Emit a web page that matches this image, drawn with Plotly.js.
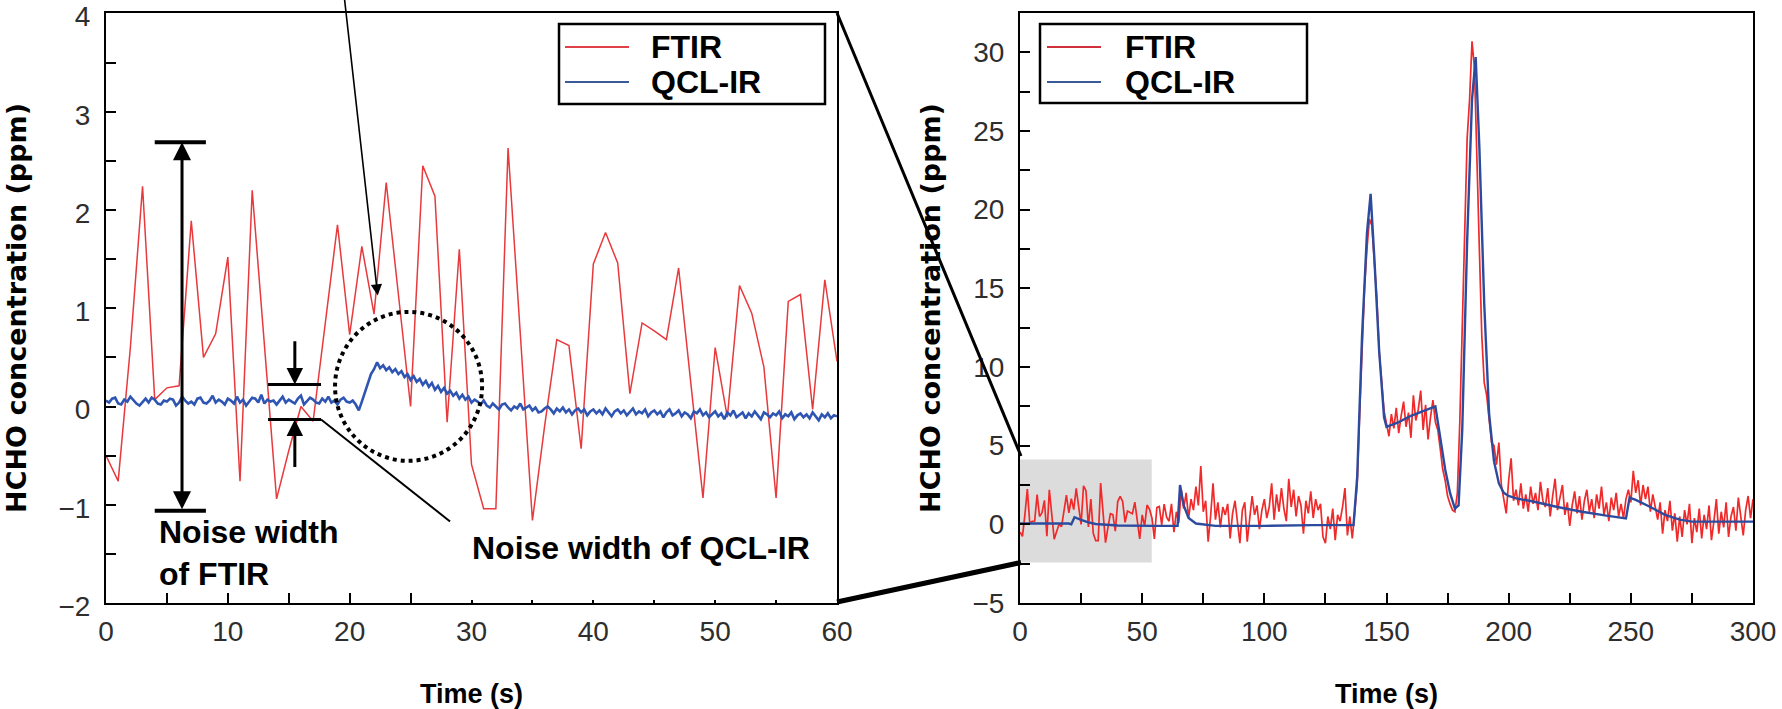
<!DOCTYPE html>
<html>
<head>
<meta charset="utf-8">
<script src="https://cdn.plot.ly/plotly-3.0.1.min.js"></script>
<style>html,body{margin:0;padding:0;background:#fff;}#chart{width:1782px;height:709px;}</style>
</head>
<body>
<div id="chart"></div>
<script>
// ---- Left panel (0-60 s) ----
// FTIR, one sample per second, t = 0..60
const ftirLeft = [
 -0.5, -0.76, 0.6, 2.24, 0.07, 0.19, 0.21, 1.89, 0.5, 0.74,
 1.52, -0.76, 2.2, 0.6, -0.94, -0.45, 0.0, -0.15, 0.85, 1.85,
 0.73, 1.63, 0.94, 2.28, 1.14, 0.0, 2.45, 2.14, -0.16, 1.6,
 -0.59, -1.04, -1.04, 2.63, 0.75, -1.16, -0.2, 0.68, 0.62, -0.43,
 1.45, 1.77, 1.46, 0.13, 0.85, 0.77, 0.68, 1.41, 0.24, -0.93,
 0.6, -0.11, 1.23, 0.95, 0.4, -0.93, 1.07, 1.14, -0.03, 1.29,
 0.46
];
// QCL-IR, one sample every 0.25 s, t = 0..60
const qclLeft = [
 0.06,0.04,0.08,0.09,0.03,0.02,0.07,0.05,0.10,0.06,0.03,0.01,0.05,0.08,0.04,0.09,0.07,0.03,0.02,0.06,
 0.05,0.08,0.07,0.01,0.04,0.10,0.06,0.03,0.05,0.02,0.08,0.09,0.04,0.03,0.06,0.11,0.04,0.07,0.05,0.02,
 0.08,0.06,0.03,0.10,0.04,0.07,0.01,0.05,0.09,0.08,0.04,0.12,0.03,0.07,0.05,0.06,0.02,0.06,0.10,0.04,
 0.07,0.05,0.03,0.08,0.11,0.02,0.06,0.09,0.07,0.04,0.03,0.08,0.05,0.10,0.04,0.06,0.02,0.07,0.09,0.05,
 0.04,0.06,0.02,-0.04,0.05,0.15,0.24,0.33,0.38,0.45,0.39,0.42,0.37,0.40,0.35,0.38,0.33,0.36,0.30,0.33,
 0.27,0.31,0.25,0.28,0.22,0.26,0.20,0.24,0.17,0.21,0.15,0.19,0.13,0.16,0.11,0.14,0.08,0.12,0.07,0.10,
 0.04,0.07,0.05,0.02,0.06,0.01,-0.01,0.03,0.00,-0.03,0.02,0.03,-0.01,-0.04,0.00,-0.02,0.03,-0.03,-0.01,0.01,
 -0.04,-0.01,-0.06,-0.05,-0.02,0.00,-0.03,-0.07,-0.02,-0.05,-0.01,-0.06,-0.03,-0.08,-0.04,-0.02,-0.06,-0.03,-0.09,-0.05,
 -0.03,-0.07,-0.04,-0.08,-0.02,-0.06,-0.10,-0.05,-0.03,-0.07,-0.04,-0.09,-0.06,-0.02,-0.08,-0.05,-0.07,-0.03,-0.10,-0.06,
 -0.04,-0.08,-0.05,-0.11,-0.06,-0.03,-0.09,-0.07,-0.04,-0.10,-0.06,-0.08,-0.12,-0.05,-0.07,-0.03,-0.09,-0.06,-0.11,-0.08,
 -0.05,-0.10,-0.07,-0.13,-0.06,-0.09,-0.04,-0.11,-0.08,-0.06,-0.12,-0.07,-0.10,-0.05,-0.09,-0.13,-0.06,-0.08,-0.11,-0.07,
 -0.09,-0.05,-0.12,-0.08,-0.10,-0.06,-0.13,-0.09,-0.07,-0.11,-0.08,-0.12,-0.06,-0.10,-0.14,-0.08,-0.11,-0.07,-0.12,-0.09,
 -0.10
];

// ---- Right panel (0-300 s) ----
// FTIR t = 61..300 (t = 0..60 is the same record as the left panel)
const ftirRightTail = [
 0.2, 1.3, -0.5, 0.8, 0.1, 2.2, 1.0, 2.0, 0.4, 1.6,
 0.9, 2.4, 1.2, 3.7, 0.8, 1.5, -1.1, 0.5, 2.6, 0.3,
 1.4, -0.2, 1.1, 0.6, 1.3, -0.9, 0.7, 1.5, 0.2, -1.2,
 0.9, 1.4, -1.1, 0.4, 1.8, 0.6, 1.2, -0.3, 0.9, 1.6,
 0.4, 1.1, 2.6, 0.3, 1.9, 0.8, 2.3, 1.0, 0.2, 2.9,
 1.1, 2.2, 0.5, 1.8, 1.2, -0.6, 1.5, 0.7, 2.1, 0.4,
 1.6, 0.9, 1.3, -0.8, -1.2, 0.5, -0.3, 1.0, -1.0, 0.6,
 0.2, 1.1, 2.3, -0.7, 0.5, -0.9, 0.8, 2.5, 7.0, 11.5,
 15.0, 17.5, 19.4, 19.0, 16.5, 14.5, 11.0, 8.8, 7.2, 6.4,
 5.6, 7.0, 6.1, 7.4, 5.8, 6.9, 7.8, 6.2, 7.1, 5.5,
 8.2, 6.6, 7.3, 8.5, 6.0, 7.6, 5.4, 6.8, 7.9, 6.5,
 6.0, 4.8, 3.5, 2.8, 1.8, 1.3, 0.9, 0.8, 2.0, 6.5,
 12.0, 19.0, 24.5, 27.0, 30.7, 29.0, 24.0, 17.5, 12.0, 9.0,
 8.2, 6.8, 5.2, 5.0, 3.8, 5.2, 2.5, 1.6, 0.7, 2.8,
 4.2, 1.5, 2.2, 1.2, 2.6, 1.0, 1.9, 0.8, 2.4, 1.3,
 2.0, 0.9, 2.7, 1.5, 1.1, 2.3, 0.5, 1.8, 2.9, 0.9,
 1.6, 2.5, 0.6, 1.4, -0.1, 1.2, 2.1, 0.7, 1.8, 0.3,
 1.5, 2.2, 0.8, 1.6, 0.4, 1.9, 1.0, 2.4, 0.6, 1.4,
 0.2, 1.7, 0.9, 2.0, 0.5, 1.3, 0.4, 1.6, 2.2, 1.4,
 3.4, 2.0, 2.8, 1.2, 2.5, 1.6, 2.4, 0.8, 1.9, 1.1,
 0.3, 1.4, -0.6, 0.9, 0.2, 1.5, -0.4, 0.7, -1.1, 0.5,
 -0.8, 0.9, 0.0, 1.3, -1.2, 0.4, -0.5, 1.0, -0.9, 0.6,
 -0.3, 1.2, -1.0, 0.2, 1.6, -0.6, 0.8, -0.2, 1.4, -0.8,
 0.5, 1.1, -0.4, 1.7, 0.3, -0.7, 0.9, 1.8, 0.4, 1.6
];
const ftirRight = ftirLeft.concat(ftirRightTail);

// QCL-IR (smooth at this scale): time / value pairs
const qclRightTime = [0, 20, 21, 22.3, 25, 28, 31, 40, 55, 64.5, 65.5, 67, 69, 72, 80, 100, 120, 136.5,
 138, 140, 142, 143.5, 145, 147, 149, 150, 155, 160, 165, 170, 172, 174, 176, 178, 179.5,
 181, 183, 185, 186.5, 188, 190, 192, 194, 196, 198, 200, 203, 210, 220, 230, 240, 248,
 249.5, 252, 258, 264, 270, 275, 300];
const qclRightVal = [0.05, 0.05, 0.0, 0.45, 0.28, 0.12, 0.02, -0.07, -0.1, -0.1, 2.5, 1.2, 0.4, 0.05, -0.1, -0.1, -0.05, -0.05,
 3.0, 12.0, 18.5, 21.0, 17.0, 11.0, 6.8, 6.2, 6.5, 6.9, 7.2, 7.5, 5.5, 3.5, 2.0, 1.0, 1.2,
 6.0, 18.0, 27.0, 29.7, 24.0, 14.0, 7.0, 4.0, 2.6, 2.0, 1.8, 1.65, 1.45, 1.1, 0.8, 0.55, 0.38,
 1.7, 1.55, 1.1, 0.6, 0.3, 0.17, 0.17];

// ---- text ----
const seriesNames = ['FTIR', 'QCL-IR'];
const xTitle = 'Time (s)';
const yTitle = 'HCHO concentration (ppm)';
const noteFtir = 'Noise width<br>of FTIR';
const noteQcl = 'Noise width of QCL-IR';

const RED = '#e8393c', BLUE = '#2f55b3';
const RED2 = '#f02a2a', BLUE2 = '#2d4b9e';

const traces = [
  {type:'scatter', mode:'lines', name:seriesNames[0], x0:0, dx:1, y:ftirLeft,
   xaxis:'x', yaxis:'y', line:{color:RED, width:1.5}, showlegend:false},
  {type:'scatter', mode:'lines', name:seriesNames[1], x0:0, dx:0.25, y:qclLeft,
   xaxis:'x', yaxis:'y', line:{color:BLUE, width:2.6}, showlegend:false},
  {type:'scatter', mode:'lines', name:seriesNames[0], x0:0, dx:1, y:ftirRight,
   xaxis:'x2', yaxis:'y2', line:{color:RED2, width:1.7}, showlegend:false},
  {type:'scatter', mode:'lines', name:seriesNames[1], x:qclRightTime, y:qclRightVal,
   xaxis:'x2', yaxis:'y2', line:{color:BLUE2, width:2.4}, showlegend:false}
];

const tickFont = {family:'Liberation Sans, Arial, sans-serif', size:28, color:'#2e2e2e'};
const xTitleFont = {family:'Liberation Sans, Arial, sans-serif', size:27, color:'#000', weight:'bold'};
const yTitleFont = {family:'DejaVu Sans, Verdana, sans-serif', size:27, color:'#000', weight:'bold'};
function axisBase(extra) {
  return Object.assign({
    showline:true, linecolor:'#000', linewidth:2, mirror:true,
    ticks:'inside', ticklen:10, tickwidth:2, tickcolor:'#000',
    showgrid:false, zeroline:false, tickfont:tickFont, fixedrange:true,
    ticklabeloverflow:'allow'
  }, extra);
}
function minor(d) {
  return {dtick:d, ticks:'inside', ticklen:10, tickwidth:2, tickcolor:'#000', showgrid:false};
}

// pixel -> paper helpers (plot area 106..1753 x 13..603)
const PL = 106, PW = 1647, PB = 603, PH = 590;
const px = v => (v - PL) / PW;
const py = v => (PB - v) / PH;

const shapes = [
  // grey zoom window on the right panel
  {type:'rect', xref:'x2', yref:'y2', x0:0, x1:53.9, y0:-2.42, y1:4.12,
   fillcolor:'#dcdcdc', line:{width:0}, layer:'below'},
  // zoom connector lines
  {type:'line', xref:'paper', yref:'paper', x0:px(837), y0:py(13), x1:px(1021), y1:py(456),
   line:{color:'#000', width:3}},
  {type:'line', xref:'paper', yref:'paper', x0:px(837), y0:py(602), x1:px(1021), y1:py(562.5),
   line:{color:'#000', width:5}},
  // FTIR noise caps
  {type:'line', xref:'x', yref:'y', x0:4.0, x1:8.2, y0:2.69, y1:2.69, line:{color:'#000', width:4}},
  {type:'line', xref:'x', yref:'y', x0:4.0, x1:8.2, y0:-1.06, y1:-1.06, line:{color:'#000', width:4}},
  // QCL noise caps
  {type:'line', xref:'x', yref:'y', x0:13.3, x1:17.65, y0:0.224, y1:0.224, line:{color:'#000', width:3}},
  {type:'line', xref:'x', yref:'y', x0:13.3, x1:17.65, y0:-0.132, y1:-0.132, line:{color:'#000', width:3}},
  // leader line to QCL label
  {type:'line', xref:'x', yref:'y', x0:17.65, y0:-0.132, x1:28.24, y1:-1.17, line:{color:'#000', width:2}},
  // white patch behind QCL label
  {type:'rect', xref:'x', yref:'y', x0:28.24, x1:59.85, y0:-1.97, y1:-1.17,
   fillcolor:'#fff', line:{width:0}, layer:'above'},
  // dotted circle around the QCL bump
  {type:'circle', xref:'x', yref:'y', x0:18.8, x1:30.87, y0:-0.553, y1:0.963,
   line:{color:'#000', width:4, dash:'dot'}},
  // legend boxes
  {type:'rect', xref:'paper', yref:'paper', x0:px(559), x1:px(825), y0:py(104), y1:py(24),
   fillcolor:'#fff', line:{color:'#000', width:2.5}, layer:'above'},
  {type:'line', xref:'paper', yref:'paper', x0:px(565), x1:px(629), y0:py(47), y1:py(47),
   line:{color:'#e04048', width:2}},
  {type:'line', xref:'paper', yref:'paper', x0:px(565), x1:px(629), y0:py(82), y1:py(82),
   line:{color:'#3a5a9a', width:2}},
  {type:'rect', xref:'paper', yref:'paper', x0:px(1040), x1:px(1307), y0:py(103), y1:py(24),
   fillcolor:'#fff', line:{color:'#000', width:2.5}, layer:'above'},
  {type:'line', xref:'paper', yref:'paper', x0:px(1047), x1:px(1101), y0:py(47), y1:py(47),
   line:{color:'#d0303a', width:2}},
  {type:'line', xref:'paper', yref:'paper', x0:px(1047), x1:px(1101), y0:py(82), y1:py(82),
   line:{color:'#3a5a9a', width:2}}
];

const labFont = {family:'Liberation Sans, Arial, sans-serif', size:32, color:'#000', weight:'bold'};
const legFont = {family:'Liberation Sans, Arial, sans-serif', size:32, color:'#000', weight:'bold'};
const annotations = [
  // FTIR noise width double arrow
  {xref:'x', yref:'y', axref:'x', ayref:'y', x:6.24, y:2.69, ax:6.24, ay:-1.06, text:'',
   showarrow:true, arrowside:'end+start', arrowhead:2, startarrowhead:2,
   arrowsize:1.2, startarrowsize:1.2, arrowwidth:3, arrowcolor:'#000', standoff:0, startstandoff:0},
  // QCL noise width arrows
  {xref:'x', yref:'y', axref:'x', ayref:'y', x:15.5, y:0.224, ax:15.5, ay:0.68, text:'',
   showarrow:true, arrowhead:2, arrowsize:1.1, arrowwidth:3, arrowcolor:'#000'},
  {xref:'x', yref:'y', axref:'x', ayref:'y', x:15.5, y:-0.132, ax:15.5, ay:-0.63, text:'',
   showarrow:true, arrowhead:2, arrowsize:1.1, arrowwidth:3, arrowcolor:'#000'},
  // long pointer arrow from top
  {xref:'x', yref:'y', axref:'x', ayref:'y', x:22.3, y:1.13, ax:19.44, ay:4.3, text:'',
   showarrow:true, arrowhead:2, arrowsize:1.4, arrowwidth:1.6, arrowcolor:'#000'},
  // labels
  {xref:'x', yref:'y', x:4.15, y:-1.49, xanchor:'left', yanchor:'middle', align:'left',
   text:noteFtir, showarrow:false, font:labFont},
  {xref:'x', yref:'y', x:29.9, y:-1.44, xanchor:'left', yanchor:'middle',
   text:noteQcl, showarrow:false, font:labFont},
  // legend labels
  {xref:'paper', yref:'paper', x:px(649), y:py(47), xanchor:'left', yanchor:'middle',
   text:seriesNames[0], showarrow:false, font:legFont},
  {xref:'paper', yref:'paper', x:px(649), y:py(82), xanchor:'left', yanchor:'middle',
   text:seriesNames[1], showarrow:false, font:legFont},
  {xref:'paper', yref:'paper', x:px(1123), y:py(47), xanchor:'left', yanchor:'middle',
   text:seriesNames[0], showarrow:false, font:legFont},
  {xref:'paper', yref:'paper', x:px(1123), y:py(82), xanchor:'left', yanchor:'middle',
   text:seriesNames[1], showarrow:false, font:legFont}
];

const layout = {
  width:1782, height:709,
  margin:{l:PL, r:29, t:13, b:106},
  paper_bgcolor:'#fff', plot_bgcolor:'#fff',
  showlegend:false,
  xaxis: axisBase({domain:[0, px(837)], range:[0,60], dtick:10, tick0:0, minor:minor(5),
    ticklabelstandoff:2,
    title:{text:xTitle, font:xTitleFont, standoff:45}}),
  yaxis: axisBase({range:[-2,4.005], dtick:1, tick0:0, minor:minor(0.5), ticklabelstandoff:8,
    ticklabelshift:3,
    title:{text:yTitle, font:yTitleFont, standoff:24}}),
  xaxis2: axisBase({domain:[px(1020), 1], range:[0,300], dtick:50, tick0:0, minor:minor(25),
    anchor:'y2', ticklabelstandoff:2,
    title:{text:xTitle, font:xTitleFont, standoff:45}}),
  yaxis2: axisBase({range:[-5,32.5], dtick:5, tick0:0, minor:minor(2.5), anchor:'x2',
    ticklabelstandoff:8,
    title:{text:yTitle, font:yTitleFont, standoff:24}}),
  shapes: shapes,
  annotations: annotations
};

Plotly.newPlot('chart', traces, layout, {displayModeBar:false, staticPlot:true});
</script>
</body>
</html>
